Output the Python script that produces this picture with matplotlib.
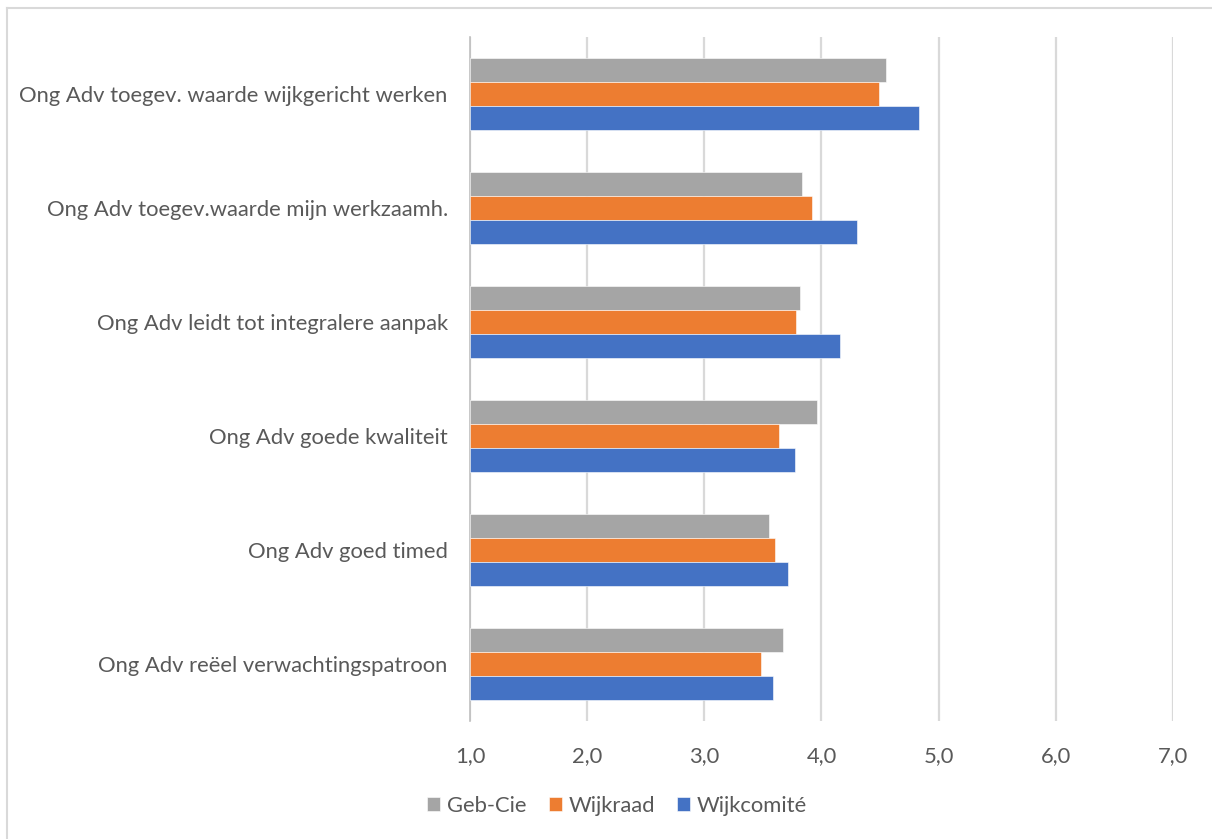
import matplotlib
matplotlib.use("Agg")
import matplotlib.pyplot as plt
import numpy as np
from matplotlib.lines import Line2D

# categories listed top to bottom as in the chart
categories = [
    "Ong Adv toegev. waarde wijkgericht werken",
    "Ong Adv toegev.waarde mijn werkzaamh.",
    "Ong Adv leidt tot integralere aanpak",
    "Ong Adv goede kwaliteit",
    "Ong Adv goed timed",
    "Ong Adv reëel verwachtingspatroon",
]
series_names = ["Geb-Cie", "Wijkraad", "Wijkcomité"]
geb_cie = [4.55, 3.83, 3.82, 3.96, 3.55, 3.67]
wijkraad = [4.49, 3.92, 3.78, 3.64, 3.60, 3.48]
wijkcomite = [4.83, 4.30, 4.16, 3.77, 3.71, 3.59]
x_ticks = [1, 2, 3, 4, 5, 6, 7]

colors = ["#A5A5A5", "#ED7D31", "#4472C4"]
text_color = "#595959"
fs = 15.8

plt.rcParams["font.family"] = ["Lato", "DejaVu Sans"]

fig = plt.figure(figsize=(12.12, 8.39), dpi=100)
ax = fig.add_axes([470 / 1212, 1 - 721 / 839, (1173 - 470) / 1212, (721 - 37) / 839])

n = len(categories)
y = np.arange(n)[::-1]
h = 0.21
for values, name, color, off in zip([geb_cie, wijkraad, wijkcomite], series_names, colors, [h, 0, -h]):
    ax.barh(y + off, np.array(values) - 1, left=1, height=h, color=color,
            edgecolor="white", linewidth=0.4, label=name, zorder=3)

ax.set_xlim(1, 7.0)
ax.set_ylim(-0.5, n - 0.5)
ax.set_xticks(x_ticks)
ax.set_xticklabels([f"{v:.1f}".replace(".", ",") for v in x_ticks])
ax.set_yticks(y)
ax.set_yticklabels(categories)
ax.grid(axis="x", color="#D9D9D9", linewidth=1.6, zorder=0)
for s in ["top", "right", "bottom"]:
    ax.spines[s].set_visible(False)
ax.spines["left"].set_color("#BFBFBF")
ax.spines["left"].set_linewidth(1.2)
ax.tick_params(axis="both", length=0, colors=text_color, labelsize=fs)
ax.tick_params(axis="x", pad=18)
ax.tick_params(axis="y", pad=16)

handles, labels = ax.get_legend_handles_labels()
fig.legend(handles, labels, loc="center", bbox_to_anchor=(617 / 1212, 1 - 806 / 839),
           ncol=3, frameon=False, fontsize=fs, labelcolor=text_color,
           handlelength=0.6, handleheight=0.6, handletextpad=0.3, columnspacing=1.0)

# chart area border
fig.add_artist(Line2D([7 / 1212, 7 / 1212], [0, 1 - 8 / 839], transform=fig.transFigure,
                      color="#D9D9D9", linewidth=1.5))
fig.add_artist(Line2D([7 / 1212, 1], [1 - 8 / 839, 1 - 8 / 839], transform=fig.transFigure,
                      color="#D9D9D9", linewidth=1.5))

fig.savefig("out.png", dpi=100)
